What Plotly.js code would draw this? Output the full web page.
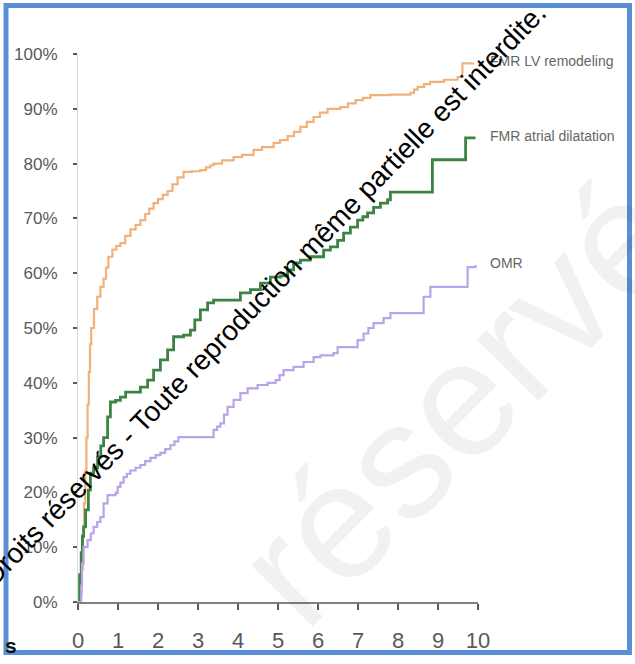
<!DOCTYPE html>
<html>
<head>
<meta charset="utf-8">
<script src="https://cdn.plot.ly/plotly-3.0.1.min.js"></script>
<style>
html,body{margin:0;padding:0;background:#fff;}
#chart{width:635px;height:664px;}
</style>
</head>
<body>
<div id="chart"></div>
<script>
// ---- data (years, cumulative %) ----
const seriesNames = ["FMR LV remodeling", "FMR atrial dilatation", "OMR"];

const lvT = [0,0.06,0.09,0.12,0.15,0.18,0.21,0.24,0.27,0.3,0.33,0.4,0.48,0.56,0.64,0.7,0.76,0.86,0.96,1.06,1.18,1.31,1.44,1.56,1.68,1.78,1.89,2.0,2.12,2.24,2.36,2.49,2.64,2.85,3.06,3.2,3.31,3.39,3.6,3.89,4.1,4.39,4.6,4.89,5.05,5.24,5.4,5.56,5.72,5.89,6.05,6.24,6.56,6.75,6.94,7.12,7.31,7.8,8.31,8.4,8.49,8.65,8.8,9.15,9.49,9.61,9.88];
const lvY = [0,1,6,12,18,24,30,36,42,47,50,53.5,55.7,57.5,59,61,63,64.3,65,65.5,66.8,68,68.8,69.7,70.8,71.8,72.8,73.5,74.3,75,76.2,77.5,78.5,78.6,78.8,79.3,79.7,80,80.6,81.2,81.6,82.5,83,83.8,84.3,85,85.8,86.7,87.6,88.5,89.3,90,90.3,91,91.6,92,92.5,92.6,92.9,93.5,94,94.5,94.9,95.3,95.8,98.3,98.4];

const laT = [0,0.04,0.08,0.11,0.14,0.19,0.26,0.31,0.39,0.49,0.57,0.64,0.74,0.81,0.94,1.06,1.19,1.39,1.56,1.74,1.89,2.06,2.24,2.39,2.64,2.81,2.92,3.06,3.24,3.39,3.81,4.06,4.31,4.56,4.81,5.06,5.24,5.39,5.56,5.81,5.99,6.14,6.31,6.49,6.64,6.81,6.99,7.12,7.24,7.39,7.56,7.74,7.81,8.86,9.69,9.94];
const laY = [0,5,9,12,13.7,16.8,20.4,23.5,24.5,26.5,28.5,30,33.8,36.5,36.8,37.4,38.3,38.3,39.2,40.5,42.3,44.2,46,48.4,48.7,49.6,51.5,53.3,54.6,55.1,55.1,56.4,57,58.2,59.3,59.5,60.6,61.9,62.4,63,63,64.2,64.8,66,67.3,68.4,69.7,70.3,71,72,72.8,73.4,74.8,80.7,84.7,84.7];

const omrT = [0,0.06,0.08,0.1,0.14,0.24,0.32,0.39,0.48,0.56,0.64,0.74,0.94,0.99,1.06,1.14,1.22,1.31,1.44,1.56,1.68,1.81,1.94,2.06,2.18,2.31,2.41,2.51,3.31,3.39,3.48,3.56,3.65,3.74,3.89,4.06,4.24,4.49,4.74,4.94,5.04,5.14,5.39,5.64,5.89,6.06,6.39,6.49,6.99,7.14,7.26,7.39,7.64,7.81,8.64,8.81,9.74,9.94];
const omrY = [0,0,3,7,10,11.3,12.5,13.7,14.6,15.5,18,19.5,19.9,21,21.8,22.8,23.4,24,24.5,25,25.7,26.3,26.8,27.2,27.9,28.6,29.3,30.1,30.1,31.4,32,32.6,34.2,35.6,36.9,38.1,39,39.6,40,40.5,41.4,42.3,42.9,43.8,44.7,45,45.4,46.5,47.8,49,50,50.9,51.8,52.7,55.7,57.5,61.1,61.5];

const xTicks = [0,1,2,3,4,5,6,7,8,9,10];
const yTicks = [0,10,20,30,40,50,60,70,80,90,100];
const yTickText = yTicks.map(v => v + "%");

const watermark = "Droits réservés - Toute reproduction même partielle est interdite.";
const bigWatermark = "réservés";

// ---- chart ----
const colors = ["#f0b27a", "#3b8443", "#b9a3ea"];
const xs = [lvT, laT, omrT];
const ys = [lvY, laY, omrY];
const widths = [2.2, 2.8, 2.2];

const traces = xs.map((x, i) => ({
  x: x, y: ys[i], type: "scatter", mode: "lines", name: seriesNames[i],
  line: {shape: "hv", color: colors[i], width: widths[i]},
  hoverinfo: "skip"
}));

const annotations = [];
// faint large background watermark
annotations.push({
  xref: "paper", yref: "paper", x: 1.0225, y: 0.418,
  text: bigWatermark, showarrow: false, xanchor: "center", yanchor: "middle",
  textangle: -45,
  font: {family: "Liberation Sans, Arial, sans-serif", size: 164, color: "rgba(0,0,0,0.055)"}
});
const labelFont = {family: "Liberation Sans, Arial, sans-serif", size: 14, color: "#666666"};
xs.forEach((x, i) => annotations.push({
  x: 1.025, y: ys[i][ys[i].length - 1] / 100 + 0.004, xref: "paper", yref: "paper",
  text: seriesNames[i], showarrow: false, xanchor: "left", yanchor: "middle",
  font: labelFont
}));
annotations.push({
  xref: "paper", yref: "paper", x: -0.1675, y: -0.079,
  text: "<b>s</b>", showarrow: false, xanchor: "center", yanchor: "middle",
  font: {family: "Liberation Sans, Arial, sans-serif", size: 21, color: "#111"}
});
annotations.push({
  xref: "paper", yref: "paper", x: 0.465, y: 0.562,
  text: watermark, showarrow: false, xanchor: "center", yanchor: "middle",
  textangle: -46,
  font: {family: "Liberation Sans, Arial, sans-serif", size: 28, color: "#000"}
});

const layout = {
  width: 635, height: 664,
  margin: {l: 78, r: 157, t: 54, b: 62, pad: 0},
  paper_bgcolor: "#ffffff", plot_bgcolor: "#ffffff",
  showlegend: false,
  xaxis: {
    range: [0, 10], tickvals: xTicks, ticktext: xTicks.map(String),
    showgrid: false, zeroline: false,
    showline: true, linecolor: "#808080", linewidth: 2,
    ticks: "outside", ticklen: 6, tickwidth: 2, tickcolor: "#595959",
    ticklabelstandoff: 12,
    tickfont: {family: "Liberation Sans, Arial, sans-serif", size: 22, color: "#595959"},
    fixedrange: true
  },
  yaxis: {
    range: [0, 100], tickvals: yTicks, ticktext: yTickText,
    showgrid: false, zeroline: false,
    showline: true, linecolor: "#d9d9d9", linewidth: 1,
    ticks: "outside", ticklen: 4, tickwidth: 2, tickcolor: "#595959",
    ticklabelstandoff: 12,
    tickfont: {family: "Liberation Sans, Arial, sans-serif", size: 17, color: "#595959"},
    fixedrange: true
  },
  shapes: [{
    type: "rect", xref: "paper", yref: "paper", layer: "below",
    x0: -0.18, x1: 1.37875, y0: -0.0922, y1: 1.0885,
    line: {color: "#5a8fd6", width: 5}, fillcolor: "rgba(0,0,0,0)"
  }],
  annotations: annotations
};

Plotly.newPlot("chart", traces, layout, {displayModeBar: false, staticPlot: true});
</script>
</body>
</html>
